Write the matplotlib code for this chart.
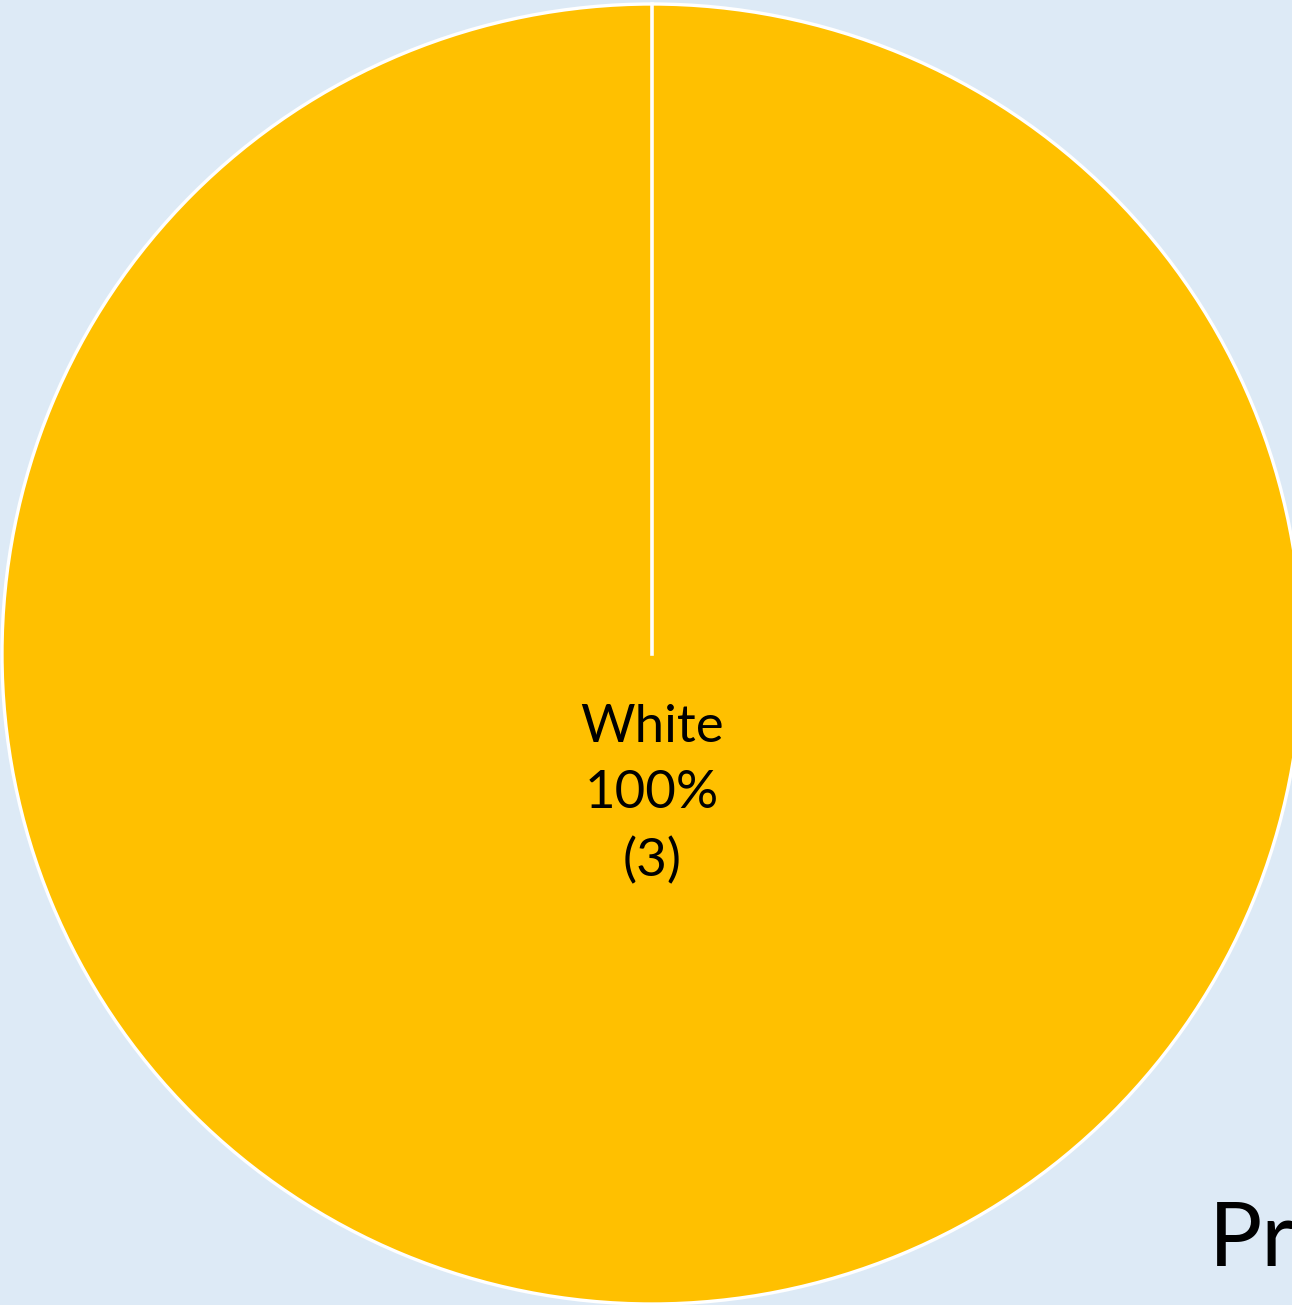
import matplotlib
matplotlib.use("Agg")
import matplotlib.pyplot as plt
import numpy as np

categories = ["White"]
counts = [3]
title_text = "Pr"

W, H = 1292, 1305
fig = plt.figure(figsize=(W / 100, H / 100), dpi=100)
fig.patch.set_facecolor("#DDEAF6")
ax = fig.add_axes([0, 0, 1, 1])
ax.set_facecolor("#DDEAF6")

cx, cy, r = 652, 654, 650
total = sum(counts)
labels = [f"{c}\n{v / total * 100:.0f}%\n({v})" for c, v in zip(categories, counts)]

wedges, texts = ax.pie(counts, colors=["#FFC000"], startangle=90, counterclock=False,
                       center=(cx, cy), radius=r, frame=True,
                       wedgeprops=dict(edgecolor="white", linewidth=2.4))
ax.set_xlim(0, W)
ax.set_ylim(H, 0)
ax.set_aspect("equal")
ax.axis("off")

# wedge boundary at start angle (radial line)
ang = np.deg2rad(90)
ax.plot([cx, cx + r * np.cos(ang)], [cy, cy - r * np.sin(ang)], color="white", lw=2.6)

for lab in labels:
    ax.text(cx, cy + 141, lab, ha="center", va="center", fontsize=38, family="Lato",
            linespacing=1.5, color="black")

ax.text(1209, 1266, title_text, ha="left", va="baseline", fontsize=64, family="Lato",
        color="black", clip_on=False)

fig.savefig("out.png", dpi=100, facecolor=fig.get_facecolor())
